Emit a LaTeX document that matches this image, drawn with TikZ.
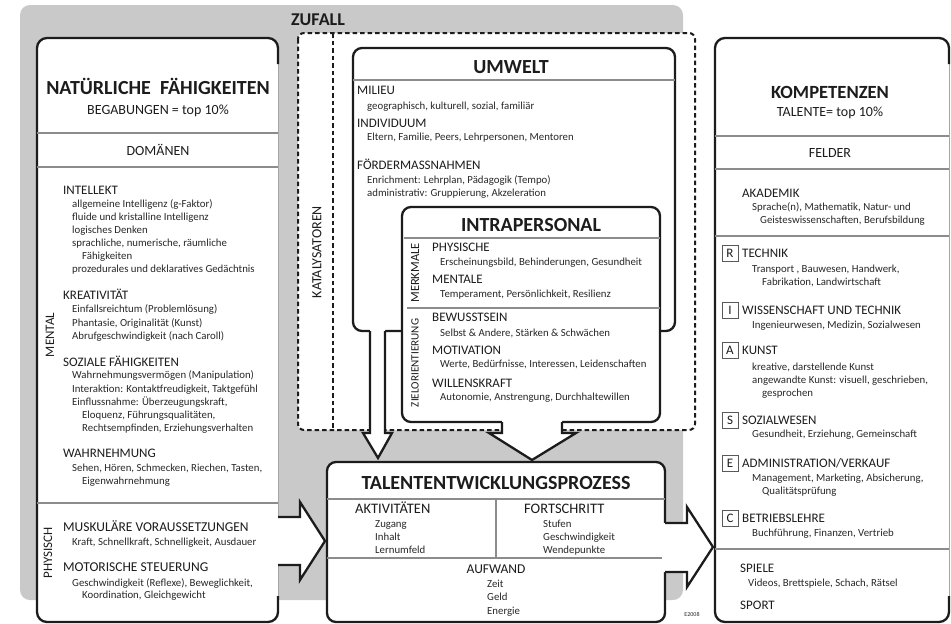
\documentclass[tikz,border=0pt]{standalone}
\usepackage{fontspec}
\setmainfont{Carlito}
\definecolor{zg}{RGB}{201,201,201}
\definecolor{ink}{RGB}{28,28,28}
\definecolor{txt}{RGB}{40,40,40}
\definecolor{divc}{RGB}{140,140,140}
\tikzset{
 boxl/.style={draw=ink, line width=2.3pt},
 divl/.style={draw=divc, line width=1.3pt},
 thinside/.style={draw=black!35, line width=1pt},
 dashl/.style={draw=ink, line width=2pt, dash pattern=on 4.5pt off 3pt},
 ttl/.style={anchor=base, yshift=-6.4pt, font=\fontsize{20}{22}\selectfont\bfseries, text=ink, inner sep=0},
 sub/.style={anchor=base, yshift=-4.5pt, font=\fontsize{14}{16}\selectfont, text=ink, inner sep=0},
 hd/.style={anchor=base west, yshift=-4.2pt, font=\fontsize{13}{15}\selectfont, text=ink, inner sep=0},
 hdb/.style={anchor=base west, yshift=-4.5pt, font=\fontsize{13.5}{15}\selectfont, text=ink, inner sep=0},
 hdc/.style={anchor=base west, yshift=-4.6pt, font=\fontsize{14.5}{16}\selectfont, text=ink, inner sep=0},
 itm/.style={anchor=base west, yshift=-3.8pt, font=\fontsize{10.8}{12}\selectfont, text=txt, inner sep=0},
 rotl/.style={rotate=90, font=\fontsize{13}{14}\selectfont, text=ink, inner sep=0},
 lbox/.style={draw=black!65, line width=0.9pt, minimum size=16pt, inner sep=0, font=\fontsize{13}{13}\selectfont, text=ink},
}
\begin{document}
\begin{tikzpicture}[x=1pt,y=-1pt]
\useasboundingbox (0,0) rectangle (951,624);
\fill[white] (0,0) rectangle (951,624);
% gray chance area
\fill[zg, rounded corners=10] (20,5) rectangle (683,600);
\node[anchor=base, yshift=-6pt, font=\fontsize{18}{20}\selectfont\bfseries, text=ink, inner sep=0] (zufall) at (318,19) {ZUFALL};
% catalysts dashed box
\draw[dashl, fill=white, rounded corners=6] (298,33) rectangle (695,430);
\draw[dashl] (333,33) -- (333,430);
\node[rotl, font=\fontsize{14}{15}\selectfont] (kat) at (317,252) {KATALYSATOREN};
% left panel
\fill[white, rounded corners=10] (37,38) rectangle (278,622);
\draw[thinside] (278,60) -- (278,600);
\draw[boxl, rounded corners=10] (278,64) -- (278,38) -- (37,38) -- (37,622) -- (278,622) -- (278,596);
\draw[divl] (37,133) -- (278,133);
\draw[divl] (37,167) -- (278,167);
\draw[divl] (37,503) -- (278,503);
% right panel
\fill[white, rounded corners=10] (715,38) rectangle (949,622);
\draw[thinside] (949,60) -- (949,600);
\draw[boxl, rounded corners=10] (949,64) -- (949,38) -- (715,38) -- (715,622) -- (949,622) -- (949,596);
\draw[divl] (715,136) -- (949,136);
\draw[divl] (715,169) -- (949,169);
\draw[divl] (715,236) -- (949,236);
\draw[divl] (715,549) -- (949,549);
% UMWELT
\draw[boxl, fill=white, rounded corners=9] (353,48) rectangle (675,331);
\draw[divl] (353,80) -- (675,80);
\fill[white] (370,327) -- (370,433) -- (363,433) -- (378,458) -- (392,433) -- (385,433) -- (385,327) -- cycle;
\draw[boxl] (370,331) -- (370,433) -- (363,433) -- (378,458) -- (392,433) -- (385,433) -- (385,331);
% INTRAPERSONAL
\draw[boxl, fill=white, rounded corners=9] (402,207) rectangle (660,422);
\draw[divl] (404,238) -- (660,238);
\draw[divl] (407,308) -- (660,308);
\fill[white] (502,418) -- (502,433) -- (489,433) -- (532,460) -- (576,433) -- (562,433) -- (562,418) -- cycle;
\draw[boxl] (502,422) -- (502,433) -- (489,433) -- (532,460) -- (576,433) -- (562,433) -- (562,422);
% TEP
\draw[boxl, fill=white, rounded corners=9] (327,462) rectangle (665,622);
\draw[divl] (327,499) -- (665,499);
\draw[divl] (496,499) -- (496,558);
\draw[divl] (327,558) -- (665,558);
% side arrows
\fill[white] (275,517) -- (300,517) -- (300,502) -- (325,541) -- (300,580) -- (300,565) -- (275,565) -- cycle;
\draw[boxl] (278,517) -- (300,517) -- (300,502) -- (325,541) -- (300,580) -- (300,565) -- (278,565);
\fill[white] (662,523) -- (687,523) -- (687,507) -- (713,547) -- (687,587) -- (687,572) -- (662,572) -- cycle;
\draw[boxl] (665,523) -- (687,523) -- (687,507) -- (713,547) -- (687,587) -- (687,572) -- (665,572);
% titles
\node[ttl] (tnat) at (158,88) {NATÜRLICHE\ \ FÄHIGKEITEN};
\node[ttl] (tumw) at (511,67) {UMWELT};
\node[ttl] (tint) at (531,225) {INTRAPERSONAL};
\node[ttl] (ttep) at (496,483) {TALENTENTWICKLUNGSPROZESS};
\node[ttl, font=\fontsize{18.6}{21}\selectfont\bfseries] (tkom) at (830,92) {KOMPETENZEN};
\node[sub] (sbeg) at (158,110) {BEGABUNGEN = top 10\%};
\node[sub] (sdom) at (158,151) {DOMÄNEN};
\node[sub] (stal) at (830,112) {TALENTE= top 10\%};
\node[sub] (sfel) at (830,153) {FELDER};
\node[sub, font=\fontsize{13.5}{15}\selectfont] (sauf) at (496,569) {AUFWAND};
% rotated labels
\node[rotl] (rmen) at (50,335) {MENTAL};
\node[rotl] (rphy) at (48,553) {PHYSISCH};
\node[rotl, font=\fontsize{12.5}{14}\selectfont] (rmerk) at (415,273) {MERKMALE};
\node[rotl, font=\fontsize{11.2}{13}\selectfont] (rziel) at (415,363) {ZIELORIENTIERUNG};
% headings
\foreach \x/\y/\lbl [count=\i] in {
63/190/INTELLEKT, 63/295/KREATIVITÄT, 63/362/{SOZIALE FÄHIGKEITEN}, 63/453/WAHRNEHMUNG,
357/90/MILIEU, 357/123/INDIVIDUUM, 357/165/FÖRDERMASSNAHMEN,
432/247/PHYSISCHE, 432/279/MENTALE, 432/317/BEWUSSTSEIN, 432/350/MOTIVATION, 432/383/WILLENSKRAFT,
742/193/AKADEMIK, 742/253/TECHNIK, 742/310/{WISSENSCHAFT UND TECHNIK}, 742/350/KUNST,
742/420/SOZIALWESEN, 742/463/{ADMINISTRATION/VERKAUF}, 742/518/BETRIEBSLEHRE,
740/568/SPIELE, 740/605/SPORT}
  \node[hd] (h\i) at (\x,\y) {\lbl};
\foreach \x/\y/\lbl [count=\i] in {
63/527/{MUSKULÄRE VORAUSSETZUNGEN}, 63/567/{MOTORISCHE STEUERUNG}}
  \node[hdb] (hb\i) at (\x,\y) {\lbl};
\foreach \x/\y/\lbl [count=\i] in {
355/509/AKTIVITÄTEN, 524/509/FORTSCHRITT}
  \node[hdc] (hc\i) at (\x,\y) {\lbl};
% items
\foreach \x/\y/\lbl [count=\i] in {
72/204/{allgemeine Intelligenz (g-Faktor)},
72/217/{fluide und kristalline Intelligenz},
72/230/{logisches Denken},
72/243/{sprachliche, numerische, räumliche},
82/256/{Fähigkeiten},
72/269/{prozedurales und deklaratives Gedächtnis},
72/309/{Einfallsreichtum (Problemlösung)},
72/323/{Phantasie, Originalität (Kunst)},
72/336/{Abrufgeschwindigkeit (nach Caroll)},
72/375/{Wahrnehmungsvermögen (Manipulation)},
72/389/{Interaktion: Kontaktfreudigkeit, Taktgefühl},
72/402/{Einflussnahme: Überzeugungskraft,},
82/415/{Eloquenz, Führungsqualitäten,},
82/428/{Rechtsempfinden, Erziehungsverhalten},
72/468/{Sehen, Hören, Schmecken, Riechen, Tasten,},
82/481/{Eigenwahrnehmung},
72/542/{Kraft, Schnellkraft, Schnelligkeit, Ausdauer},
72/583/{Geschwindigkeit (Reflexe), Beweglichkeit,},
82/595/{Koordination, Gleichgewicht},
367/106/{geographisch, kulturell, sozial, familiär},
367/137/{Eltern, Familie, Peers, Lehrpersonen, Mentoren},
367/180/{Enrichment: Lehrplan, Pädagogik (Tempo)},
367/193/{administrativ: Gruppierung, Akzeleration},
440/262/{Erscheinungsbild, Behinderungen, Gesundheit},
440/294/{Temperament, Persönlichkeit, Resilienz},
440/333/{Selbst \& Andere, Stärken \& Schwächen},
440/364/{Werte, Bedürfnisse, Interessen, Leidenschaften},
440/397/{Autonomie, Anstrengung, Durchhaltewillen},
375/524/Zugang, 375/537/Inhalt, 375/550/Lernumfeld,
543/524/Stufen, 543/537/Geschwindigkeit, 543/550/Wendepunkte,
487/584/Zeit, 487/597/Geld, 487/611/Energie,
752/207/{Sprache(n), Mathematik, Natur- und},
760/220/{Geisteswissenschaften, Berufsbildung},
752/269/{Transport , Bauwesen, Handwerk,},
762/282/{Fabrikation, Landwirtschaft},
752/325/{Ingenieurwesen, Medizin, Sozialwesen},
752/367/{kreative, darstellende Kunst},
752/380/{angewandte Kunst: visuell, geschrieben,},
762/393/{gesprochen},
752/434/{Gesundheit, Erziehung, Gemeinschaft},
752/478/{Management, Marketing, Absicherung,},
762/491/{Qualitätsprüfung},
752/533/{Buchführung, Finanzen, Vertrieb},
748/583/{Videos, Brettspiele, Schach, Rätsel}}
  \node[itm] (it\i) at (\x,\y) {\lbl};
% letter boxes
\node[lbox] (lR) at (730,253) {R};
\node[lbox] (lI) at (730,310) {I};
\node[lbox] (lA) at (730,350) {A};
\node[lbox] (lS) at (730,420) {S};
\node[lbox] (lE) at (730,463) {E};
\node[lbox] (lC) at (730,518) {C};
\node[font=\fontsize{6}{7}\selectfont, text=txt, inner sep=0] (copy) at (692,614) {E2008};
\end{tikzpicture}
\end{document}
